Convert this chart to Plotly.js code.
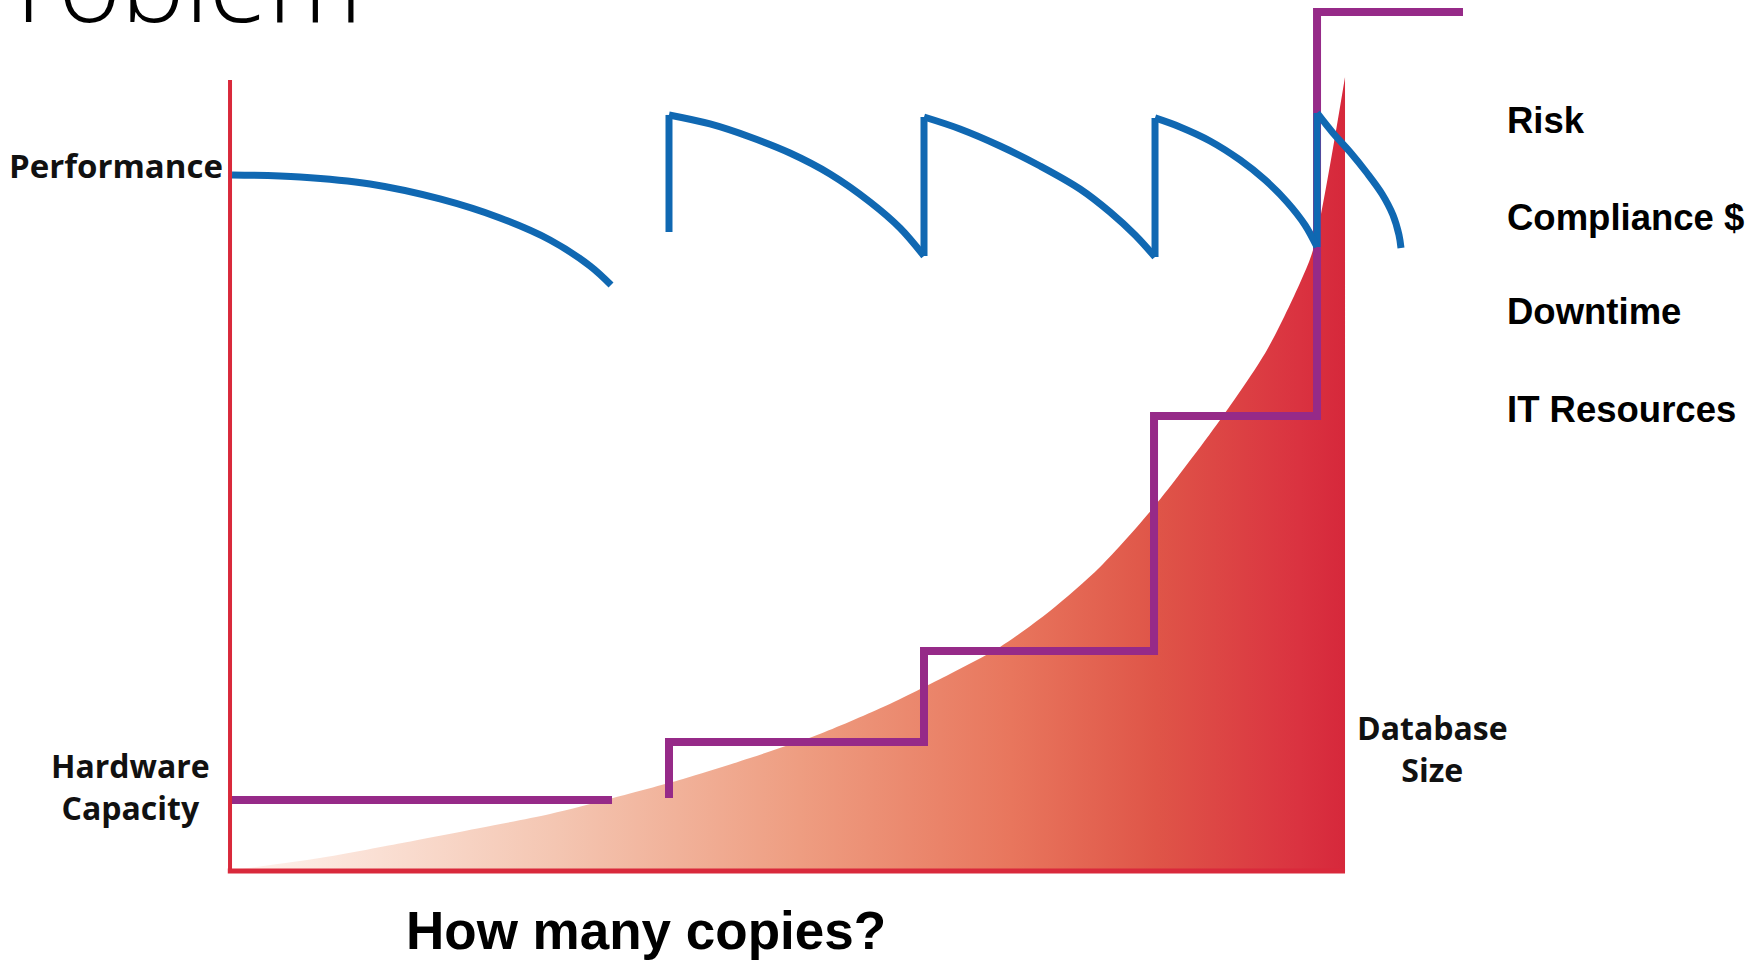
<!DOCTYPE html>
<html>
<head>
<meta charset="utf-8">
<script src="https://cdn.plot.ly/plotly-3.0.1.min.js"></script>
<style>html,body{margin:0;padding:0;background:#fff;}#chart{width:1754px;height:960px;}</style>
</head>
<body>
<div id="chart"></div>
<script>
// ---- data (x: database size 0-100, y: level 0-100) ----
const dbSizeX = [0.18, 8.07, 15.43, 22.42, 28.70, 34.35, 40.63, 46.64, 52.65, 58.57, 64.57, 69.06, 73.54, 78.03, 82.78, 88.79, 93.00, 95.96, 97.13, 100.0];
const dbSizeY = [0.13, 1.64, 3.54, 5.44, 7.21, 9.23, 11.63, 14.29, 17.19, 20.73, 24.91, 28.32, 32.87, 38.43, 45.89, 57.02, 65.87, 74.34, 78.51, 100.38];

// performance arcs
const arc1X = [0.18, 6.28, 12.56, 18.83, 24.22, 28.70, 32.29, 34.17];
const arc1Y = [87.99, 87.74, 86.85, 84.96, 82.55, 79.77, 76.49, 74.08];
const arc2X = [39.37, 43.05, 46.64, 50.22, 53.81, 57.40, 60.09, 62.24];
const arc2Y = [95.58, 94.44, 92.79, 90.77, 88.12, 84.58, 81.29, 77.75];
const arc3X = [62.24, 65.47, 69.06, 72.65, 76.23, 78.92, 81.17, 82.96];
const arc3Y = [95.32, 93.81, 91.66, 89.13, 86.22, 83.31, 80.40, 77.62];
const arc4X = [82.96, 85.20, 87.89, 90.58, 92.83, 94.80, 96.41, 97.49];
const arc4Y = [95.20, 94.06, 92.29, 89.89, 87.36, 84.58, 81.67, 78.89];
const arc5X = [97.49, 98.92, 100.45, 101.97, 103.32, 104.30, 104.84, 105.02];
const arc5Y = [95.83, 93.30, 90.90, 88.24, 85.59, 82.93, 80.40, 78.76];
// performance jumps (new copy restores performance)
const jumpX = [39.37, 62.24, 82.96, 97.49];
const jumpLow = [80.78, 77.75, 77.62, 78.89];
const jumpHigh = [95.58, 95.32, 95.20, 95.83];

// hardware capacity steps
const cap1X = [0, 34.26];
const cap1Y = [8.98, 8.98];
const cap2X = [39.37, 62.24, 82.87, 97.49, 110.58];
const cap2Y = [9.23, 16.31, 27.81, 57.52, 108.60];

const sideLabels = ['Risk', 'Compliance $', 'Downtime', 'IT Resources'];
const titleText = 'Problem';
const perfLabel = 'Performance';
const hwLabel = 'Hardware<br>Capacity';
const dbLabel = 'Database<br>Size';
const xTitle = 'How many copies?';

// ---- styling ----
const W = 1754, H = 960;
const BLUE = '#1068b2', PURPLE = '#962a88', RED = '#d9293b';

const jx = [], jy = [];
jumpX.forEach((x, i) => { jx.push(x, x, null); jy.push(jumpLow[i], jumpHigh[i], null); });

const arcs = [[arc1X, arc1Y], [arc2X, arc2Y], [arc3X, arc3Y], [arc4X, arc4Y], [arc5X, arc5Y]];

const traces = [
  {x: dbSizeX, y: dbSizeY, mode: 'lines', fill: 'tozeroy', line: {width: 0, color: RED, shape: 'spline', smoothing: 0.8},
   fillgradient: {type: 'horizontal', colorscale: [[0, '#fff4ef'], [0.29, '#f4c6b2'], [0.51, '#ee9d81'], [0.7, '#e8765d'], [0.83, '#df5548'], [0.96, '#da3240'], [1, '#d6283b']]},
   hoverinfo: 'skip'},
  {x: cap1X, y: cap1Y, mode: 'lines', line: {color: PURPLE, width: 8}, hoverinfo: 'skip'},
  {x: cap2X, y: cap2Y, mode: 'lines', line: {color: PURPLE, width: 8, shape: 'vh'}, hoverinfo: 'skip'},
  {x: jx, y: jy, mode: 'lines', line: {color: BLUE, width: 7}, connectgaps: false, hoverinfo: 'skip'}
];
arcs.forEach(a => traces.push({x: a[0], y: a[1], mode: 'lines', line: {color: BLUE, width: 7, shape: 'spline', smoothing: 1}, hoverinfo: 'skip'}));

function ann(text, X, Y, xanchor, font) {
  return {text: text, xref: 'paper', yref: 'paper', x: X / W, y: 1 - Y / H,
          xanchor: xanchor, yanchor: 'middle', showarrow: false, font: font, align: 'center'};
}
const calibriBold = {family: 'Open Sans', size: 32, weight: 700, color: '#111'};
const arialBold = {family: 'Liberation Sans, Arial', size: 36.5, weight: 700, color: '#000'};

const annotations = [
  {text: titleText, xref: 'paper', yref: 'paper', x: -48 / W, y: 1 - 55 / H, xanchor: 'left', yanchor: 'bottom',
   showarrow: false, font: {family: 'Open Sans', size: 107, weight: 300, color: '#000'}},
  ann(perfLabel, 225, 166, 'right', {family: 'Open Sans', size: 33, weight: 700, color: '#111'}),
  ann(hwLabel, 130, 786, 'center', calibriBold),
  ann(dbLabel, 1432, 748, 'center', calibriBold),
  ann(xTitle, 646, 930, 'center', {family: 'Liberation Sans, Arial', size: 53, weight: 700, color: '#000'})
];
const sideY = [121, 218, 311, 409];
sideLabels.forEach((t, i) => annotations.push(ann(t, 1505, sideY[i], 'left', arialBold)));

const layout = {
  width: W, height: H,
  margin: {l: 0, r: 0, t: 0, b: 0, pad: 0},
  paper_bgcolor: '#fff', plot_bgcolor: '#fff',
  showlegend: false,
  xaxis: {range: [-20.63, 136.68], visible: false, fixedrange: true},
  yaxis: {range: [-11.25, 110.11], visible: false, fixedrange: true},
  shapes: [
    {type: 'line', xref: 'x', yref: 'y', x0: 0, x1: 0, y0: 0, y1: 100, line: {color: RED, width: 4}, layer: 'above'},
    {type: 'line', xref: 'x', yref: 'y', x0: -0.2, x1: 100, y0: 0, y1: 0, line: {color: RED, width: 5}, layer: 'above'}
  ],
  annotations: annotations
};

Plotly.newPlot('chart', traces, layout, {displayModeBar: false, staticPlot: true});
</script>
</body>
</html>
